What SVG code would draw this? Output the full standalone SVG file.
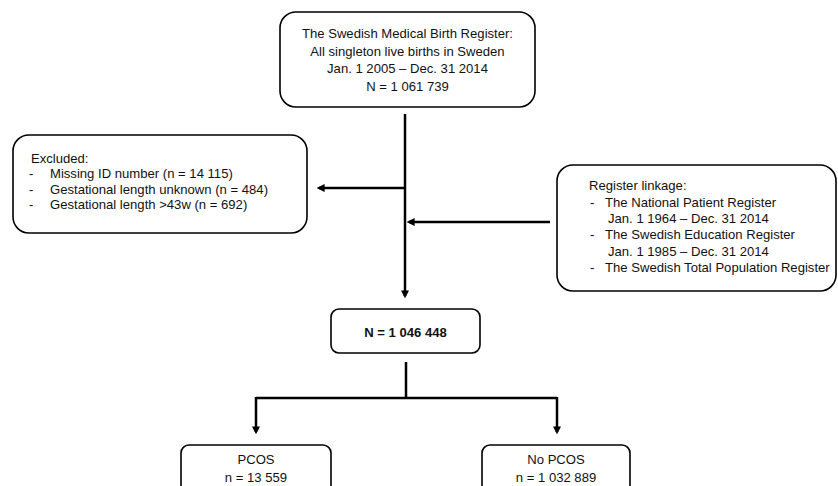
<svg xmlns="http://www.w3.org/2000/svg" width="838" height="486" viewBox="0 0 838 486">
<style>
.box{fill:#fff;stroke:#000;stroke-width:1.6}
.t{font-family:"Liberation Sans",Arial,sans-serif;font-size:13.1px;fill:#111}
.c{text-anchor:middle}
.b{font-weight:bold}
.ln{fill:none;stroke:#000;stroke-width:2.5}
</style>
<defs>
<marker id="ah" viewBox="0 0 10 10" refX="7" refY="5" markerWidth="8" markerHeight="9" markerUnits="userSpaceOnUse" orient="auto">
<path d="M0,0 L10,5 L0,10 z" fill="#000"/>
</marker>
</defs>
<rect width="838" height="486" fill="#fff"/>
<g id="connectors">
<path class="ln" d="M405,114 V296" marker-end="url(#ah)"/>
<path class="ln" d="M405,188 H319" marker-end="url(#ah)"/>
<path class="ln" d="M550,222 H409" marker-end="url(#ah)"/>
<path class="ln" d="M406,362 V398"/>
<path class="ln" d="M256,398 H557"/>
<path class="ln" d="M256,397 V432" marker-end="url(#ah)"/>
<path class="ln" d="M557,397 V432" marker-end="url(#ah)"/>
</g>
<g id="source">
<rect class="box" x="280" y="12" width="255" height="95" rx="16"/>
<text class="t c" x="407.5" y="38">The Swedish Medical Birth Register:</text>
<text class="t c" x="407.5" y="56">All singleton live births in Sweden</text>
<text class="t c" x="407.5" y="73">Jan. 1 2005 – Dec. 31 2014</text>
<text class="t c" x="407.5" y="91">N = 1 061 739</text>
</g>
<g id="excluded">
<rect class="box" x="13" y="135" width="294" height="98" rx="16"/>
<text class="t" x="31" y="163">Excluded:</text>
<text class="t" x="29" y="178">-</text><text class="t" x="50" y="178">Missing ID number (n = 14 115)</text>
<text class="t" x="29" y="194">-</text><text class="t" x="50" y="194">Gestational length unknown (n = 484)</text>
<text class="t" x="29" y="209">-</text><text class="t" x="50" y="209">Gestational length &gt;43w (n = 692)</text>
</g>
<g id="linkage">
<rect class="box" x="557" y="165" width="279" height="126" rx="16"/>
<text class="t" x="589" y="190">Register linkage:</text>
<text class="t" x="590" y="207">-</text><text class="t" x="605" y="207">The National Patient Register</text>
<text class="t" x="608" y="223">Jan. 1 1964 – Dec. 31 2014</text>
<text class="t" x="590" y="239">-</text><text class="t" x="605" y="239">The Swedish Education Register</text>
<text class="t" x="608" y="256">Jan. 1 1985 – Dec. 31 2014</text>
<text class="t" x="590" y="272">-</text><text class="t" x="605" y="272">The Swedish Total Population Register</text>
</g>
<g id="cohort">
<rect class="box" x="331" y="309" width="149" height="44" rx="8"/>
<text class="t c b" x="405.5" y="337">N = 1 046 448</text>
</g>
<g id="pcos">
<rect class="box" x="181" y="445" width="150" height="50" rx="8"/>
<text class="t c" x="256" y="464">PCOS</text>
<text class="t c" x="256" y="482">n = 13 559</text>
</g>
<g id="nopcos">
<rect class="box" x="482" y="445" width="148" height="50" rx="8"/>
<text class="t c" x="556" y="464">No PCOS</text>
<text class="t c" x="556" y="482">n = 1 032 889</text>
</g>
</svg>
